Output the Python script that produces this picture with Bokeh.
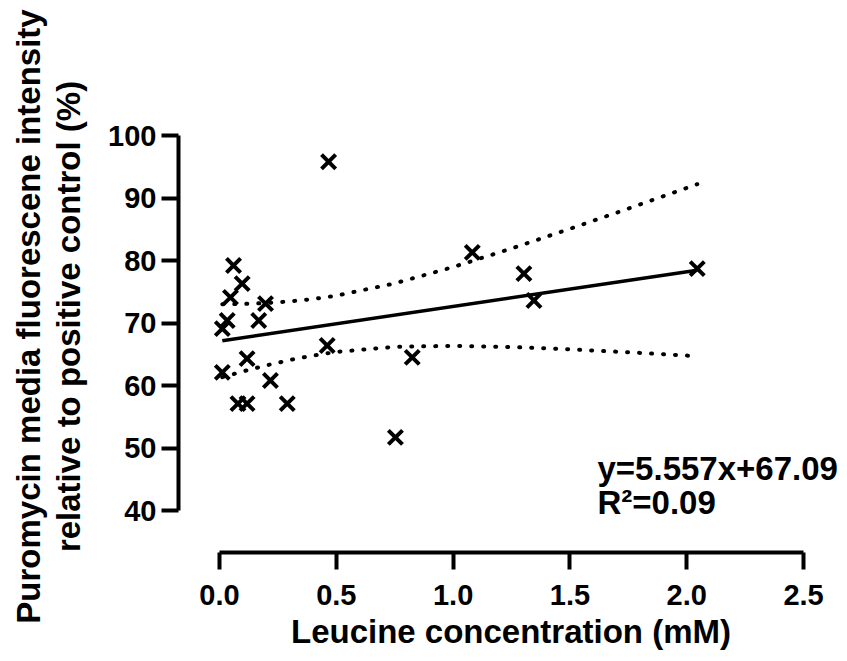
from bokeh.plotting import figure
from bokeh.models import Range1d, FixedTicker, Label, Title
from bokeh.embed import file_html
from bokeh.resources import INLINE

# ---- data ----
leucine_mM = [0.467, 0.060, 0.097, 0.047, 0.033, 0.012, 0.197, 0.168, 0.012, 0.118, 0.218,
              0.079, 0.118, 0.290, 0.461, 0.753, 0.825, 1.082, 1.303, 1.346, 2.045]
puromycin_pct = [95.8, 79.2, 76.3, 74.1, 70.4, 69.1, 73.1, 70.4, 62.1, 64.3, 60.8,
                 57.1, 57.1, 57.1, 66.4, 51.7, 64.5, 81.3, 77.9, 73.6, 78.7]

fit_slope = 5.557
fit_intercept = 67.09

band_x = [0.012, 0.1, 0.2, 0.3, 0.4, 0.5, 0.75, 1.0, 1.25, 1.5, 1.75, 2.045]
band_upper = [72.99, 73.05, 73.19, 73.45, 73.83, 74.37, 76.34, 78.95, 81.92, 85.07, 88.30, 92.21]
band_lower = [61.33, 62.25, 63.21, 64.07, 64.79, 65.37, 66.18, 66.35, 66.16, 65.79, 65.32, 64.69]

x_ticks = [0.0, 0.5, 1.0, 1.5, 2.0, 2.5]
x_tick_labels = ["0.0", "0.5", "1.0", "1.5", "2.0", "2.5"]
y_ticks = [40, 50, 60, 70, 80, 90, 100]
y_tick_labels = ["40", "50", "60", "70", "80", "90", "100"]

x_title = "Leucine concentration (mM)"
y_title_lines = ["Puromycin media fluorescene intensity", "relative to positive control (%)"]
equation_text = "y=5.557x+67.09"
r2_text = "R\u00b2=0.09"

FONT = "Liberation Sans"

p = figure(width=847, height=661, output_backend="svg", toolbar_location=None,
           x_range=Range1d(-0.1755, 2.671), y_range=Range1d(33.28, 108.8))
p.min_border_left = 178
p.min_border_right = 4
p.min_border_top = 80
p.min_border_bottom = 109
p.outline_line_color = None
p.xgrid.visible = False
p.ygrid.visible = False
p.background_fill_color = "white"
p.border_fill_color = "white"

for ax in (p.xaxis[0], p.yaxis[0]):
    ax.axis_line_width = 4
    ax.axis_line_color = "black"
    ax.major_tick_line_width = 4
    ax.major_tick_line_color = "black"
    ax.major_tick_in = 0
    ax.major_tick_out = 17
    ax.minor_tick_line_color = None
    ax.major_label_text_font = FONT
    ax.major_label_text_font_style = "bold"
    ax.major_label_text_font_size = "29px"
    ax.major_label_text_color = "black"
    ax.axis_label_text_font = FONT
    ax.axis_label_text_font_style = "bold"
    ax.axis_label_text_font_size = "33px"
    ax.axis_label_text_color = "black"

p.xaxis[0].ticker = FixedTicker(ticks=x_ticks)
p.xaxis[0].major_label_overrides = dict(zip(x_ticks, x_tick_labels))
p.xaxis[0].bounds = (x_ticks[0], x_ticks[-1])
p.xaxis[0].major_label_standoff = 15
p.xaxis[0].axis_label = x_title
p.xaxis[0].axis_label_standoff = 5

p.yaxis[0].ticker = FixedTicker(ticks=y_ticks)
p.yaxis[0].major_label_overrides = dict(zip(y_ticks, y_tick_labels))
p.yaxis[0].bounds = (y_ticks[0], y_ticks[-1])
p.yaxis[0].major_label_standoff = 5
p.yaxis[0].axis_label = y_title_lines[1]
p.yaxis[0].axis_label_standoff = 18

t1 = Title(text=y_title_lines[0], align="center", text_font=FONT, text_font_style="bold",
           text_font_size="33px", text_color="black", standoff=2)
p.add_layout(t1, "left")

# confidence band (dotted)
p.line(band_x, band_upper, line_color="black", line_width=4, line_dash="1 11", line_cap="round")
p.line(band_x, band_lower, line_color="black", line_width=4, line_dash="1 11", line_cap="round")

# regression line over data range
fx = [min(leucine_mM), max(leucine_mM)]
fy = [fit_slope * v + fit_intercept for v in fx]
p.line(fx, fy, line_color="black", line_width=3.5)

# data points
p.scatter(leucine_mM, puromycin_pct, marker="x", size=20, line_width=4, line_color="black")

# annotations
p.add_layout(Label(x=1.618, y=46.7, text=equation_text, text_font=FONT, text_font_style="bold",
                   text_font_size="33px", text_color="black", text_baseline="middle",
                   text_align="left"))
p.add_layout(Label(x=1.618, y=41.3, text=r2_text, text_font=FONT, text_font_style="bold",
                   text_font_size="33px", text_color="black", text_baseline="middle",
                   text_align="left"))

open("out.html", "w").write(file_html(p, INLINE))
